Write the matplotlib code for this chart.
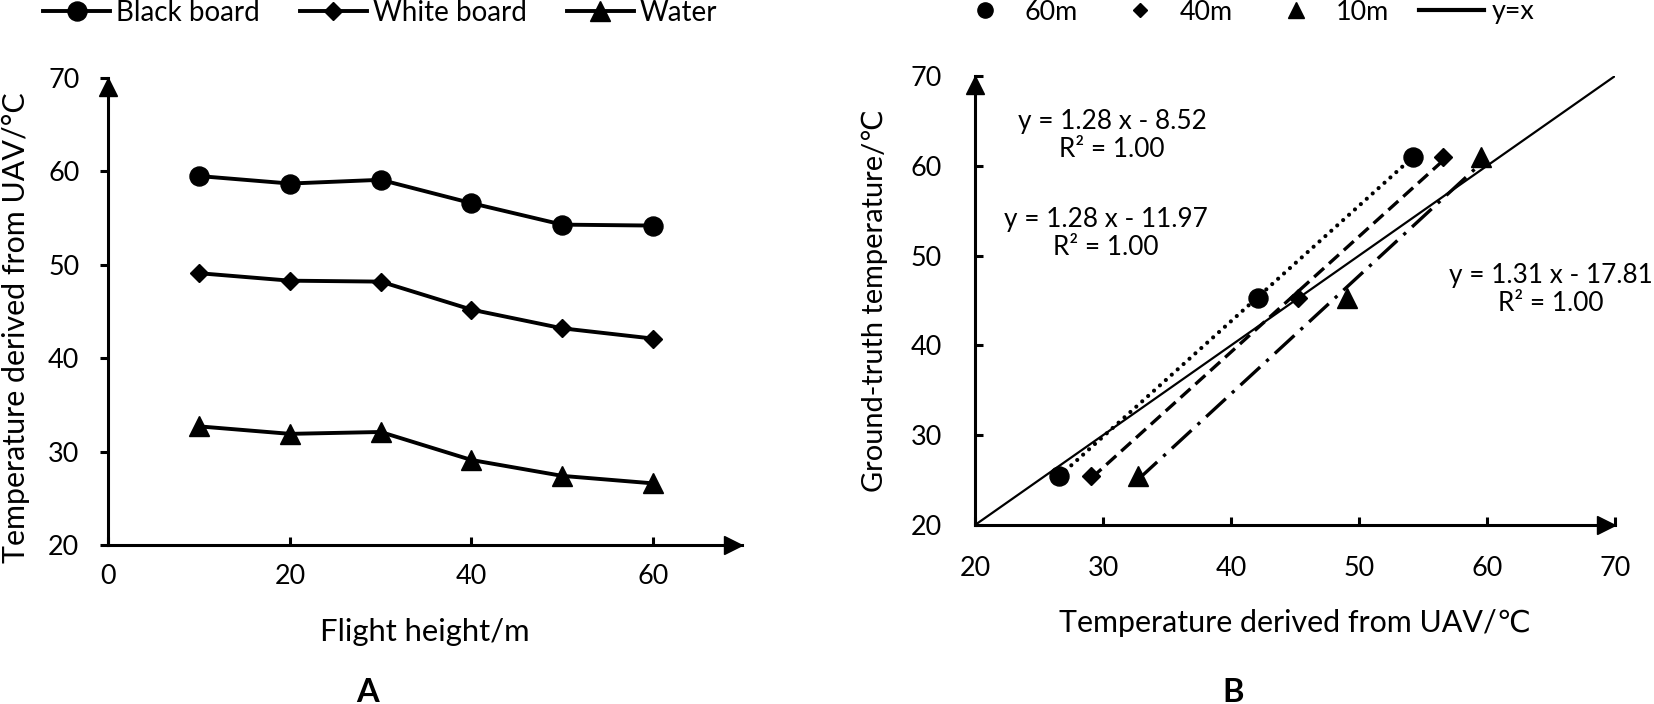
import numpy as np
import matplotlib
matplotlib.use("Agg")
import matplotlib.pyplot as plt
from matplotlib.lines import Line2D
from matplotlib.textpath import TextPath
from matplotlib.font_manager import FontProperties
from matplotlib.transforms import offset_copy

FAMILY = ['Lato', 'DejaVu Sans']
plt.rcParams['font.family'] = FAMILY

W, H, DPI = 1654, 704, 100

# --- data (panel A) ---
heights = [10, 20, 30, 40, 50, 60]
black_board = [59.5, 58.7, 59.1, 56.6, 54.3, 54.2]
white_board = [49.1, 48.3, 48.2, 45.2, 43.2, 42.1]
water = [32.7, 31.9, 32.1, 29.1, 27.4, 26.6]

# --- data (panel B) ---
ground_truth = [25.5, 45.3, 61.0]          # water, white board, black board
fit_heights = [60, 40, 10]
fit_labels = ["60m", "40m", "10m"]
fit_markers = ["o", "D", "^"]
fit_styles = [(0, (0.01, 1.9)), (0, (4, 2)), (0, (8, 2.5, 1, 2.5))]
fit_widths = [3.0, 2.4, 2.4]
fit_texts = ["y = 1.28 x - 8.52\nR\u00b2 = 1.00",
             "y = 1.28 x - 11.97\nR\u00b2 = 1.00",
             "y = 1.31 x - 17.81\nR\u00b2 = 1.00"]
fit_text_pos = [(30.7, 63.4), (30.2, 52.5), (65.0, 46.2)]


def fit_size(text, px, weight="normal"):
    """font size (pt) that makes the ink of `text` about `px` pixels wide"""
    tp = TextPath((0, 0), text, size=100, prop=FontProperties(family="Lato", weight=weight))
    return 100 * px / (tp.get_extents().width * DPI / 72)


TICK_FS = fit_size("60", 29)
LEG_FS = fit_size("Black board", 139)
LEGB_FS = fit_size("60m", 50)
EQ_FS = fit_size("y = 1.31 x - 17.81", 201)
AB_FS = fit_size("A", 23, "bold")
pt2px = DPI / 72

SPINE = 2.2


def arrow_axes(ax, ms=13):
    for s in ["top", "right"]:
        ax.spines[s].set_visible(False)
    for s in ["left", "bottom"]:
        ax.spines[s].set_linewidth(SPINE)
    fig = ax.figure
    ax.plot(1, 0, ">", color="k", ms=ms, clip_on=False,
            transform=offset_copy(ax.transAxes, fig, x=-ms / 2, units="points"))
    ax.plot(0, 1, "^", color="k", ms=ms, clip_on=False,
            transform=offset_copy(ax.transAxes, fig, y=-ms / 2, units="points"))


fig = plt.figure(figsize=(W / DPI, H / DPI), dpi=DPI)

# ---------------- panel A ----------------
axA = fig.add_axes([108.5 / W, (H - 545) / H, 633.4 / W, 467 / H])
axA.plot(heights, black_board, "-o", color="k", lw=2.8, ms=13.7, label="Black board")
axA.plot(heights, white_board, "-D", color="k", lw=2.8, ms=9.2, label="White board")
axA.plot(heights, water, "-^", color="k", lw=2.8, ms=13.7, label="Water")
axA.set_xlim(0, 69.8)
axA.set_ylim(20, 70)
axA.set_xticks([0, 20, 40, 60])
axA.set_yticks([20, 30, 40, 50, 60, 70])
axA.tick_params(axis="x", direction="in", length=6, width=SPINE, pad=14, labelsize=TICK_FS)
axA.tick_params(axis="y", direction="out", length=6, width=SPINE, pad=15, labelsize=TICK_FS)
arrow_axes(axA)
axA.set_xlabel("Flight height/m", fontsize=fit_size("Flight height/m", 205), va="center")
axA.xaxis.set_label_coords(0.4998, -0.186)
axA.set_ylabel("Temperature derived from UAV/\u00b0C",
               fontsize=fit_size("Temperature derived from UAV/\u00b0C", 469), va="center")
axA.yaxis.set_label_coords(-0.1464, 0.465)
lpx = LEG_FS * pt2px
axA.legend(loc="center left", bbox_to_anchor=(43 / W, 1 - 13 / H),
           bbox_transform=fig.transFigure, ncol=3, frameon=False, fontsize=LEG_FS,
           handlelength=67 / lpx, handletextpad=6 / lpx, columnspacing=40 / lpx,
           borderaxespad=0, borderpad=0)

# ---------------- panel B ----------------
axB = fig.add_axes([975 / W, (H - 525) / H, 640 / W, 449 / H])
idx = [heights.index(h) for h in fit_heights]
surfaces = [water, white_board, black_board]
handles = []
for k, i in enumerate(idx):
    uav = np.array([s[i] for s in surfaces])
    gt = np.array(ground_truth)
    slope, icpt = np.polyfit(uav, gt, 1)
    xx = np.array([uav.min(), uav.max()])
    axB.plot(xx, slope * xx + icpt, color="k", lw=fit_widths[k], linestyle=fit_styles[k],
             dash_capstyle="round" if k == 0 else "butt")
    ms = 9.2 if fit_markers[k] == "D" else 13.7
    axB.plot(uav, gt, fit_markers[k], color="k", ms=ms, linestyle="none")
    handles.append(Line2D([], [], marker=fit_markers[k], color="k", linestyle="none",
                          ms=ms * 0.8, label=fit_labels[k]))
    axB.text(fit_text_pos[k][0], fit_text_pos[k][1], fit_texts[k], ha="center",
             va="center", fontsize=EQ_FS, linespacing=1.15)

axB.plot([20, 70], [20, 70], color="k", lw=1.6)
handles.append(Line2D([], [], color="k", lw=3, label="y=x"))
axB.set_xlim(20, 70)
axB.set_ylim(20, 70)
axB.set_xticks([20, 30, 40, 50, 60, 70])
axB.set_yticks([20, 30, 40, 50, 60, 70])
axB.tick_params(axis="both", direction="in", length=6, width=SPINE, labelsize=TICK_FS)
axB.tick_params(axis="x", pad=22)
axB.tick_params(axis="y", pad=24)
arrow_axes(axB)
axB.set_xlabel("Temperature derived from UAV/\u2103",
               fontsize=fit_size("Temperature derived from UAV/\u00b0C", 470), va="center")
axB.xaxis.set_label_coords(0.5, -0.218)
axB.set_ylabel("Ground-truth temperature/\u2103",
               fontsize=fit_size("Ground-truth temperature/\u00b0C", 380), va="center")
axB.yaxis.set_label_coords(-0.156, 0.5)
bpx = LEGB_FS * pt2px
axB.legend(handles=handles, loc="center left", bbox_to_anchor=(952 / W, 1 - 12 / H),
           bbox_transform=fig.transFigure, ncol=4, frameon=False, fontsize=LEGB_FS,
           handlelength=65 / bpx, handletextpad=7.5 / bpx, columnspacing=30 / bpx,
           borderaxespad=0, borderpad=0)

fig.text(368 / W, 2 / H, "A", ha="center", va="baseline", fontsize=AB_FS, fontweight="bold")
fig.text(1233 / W, 2 / H, "B", ha="center", va="baseline", fontsize=AB_FS, fontweight="bold")

fig.savefig("out.png", dpi=DPI)
